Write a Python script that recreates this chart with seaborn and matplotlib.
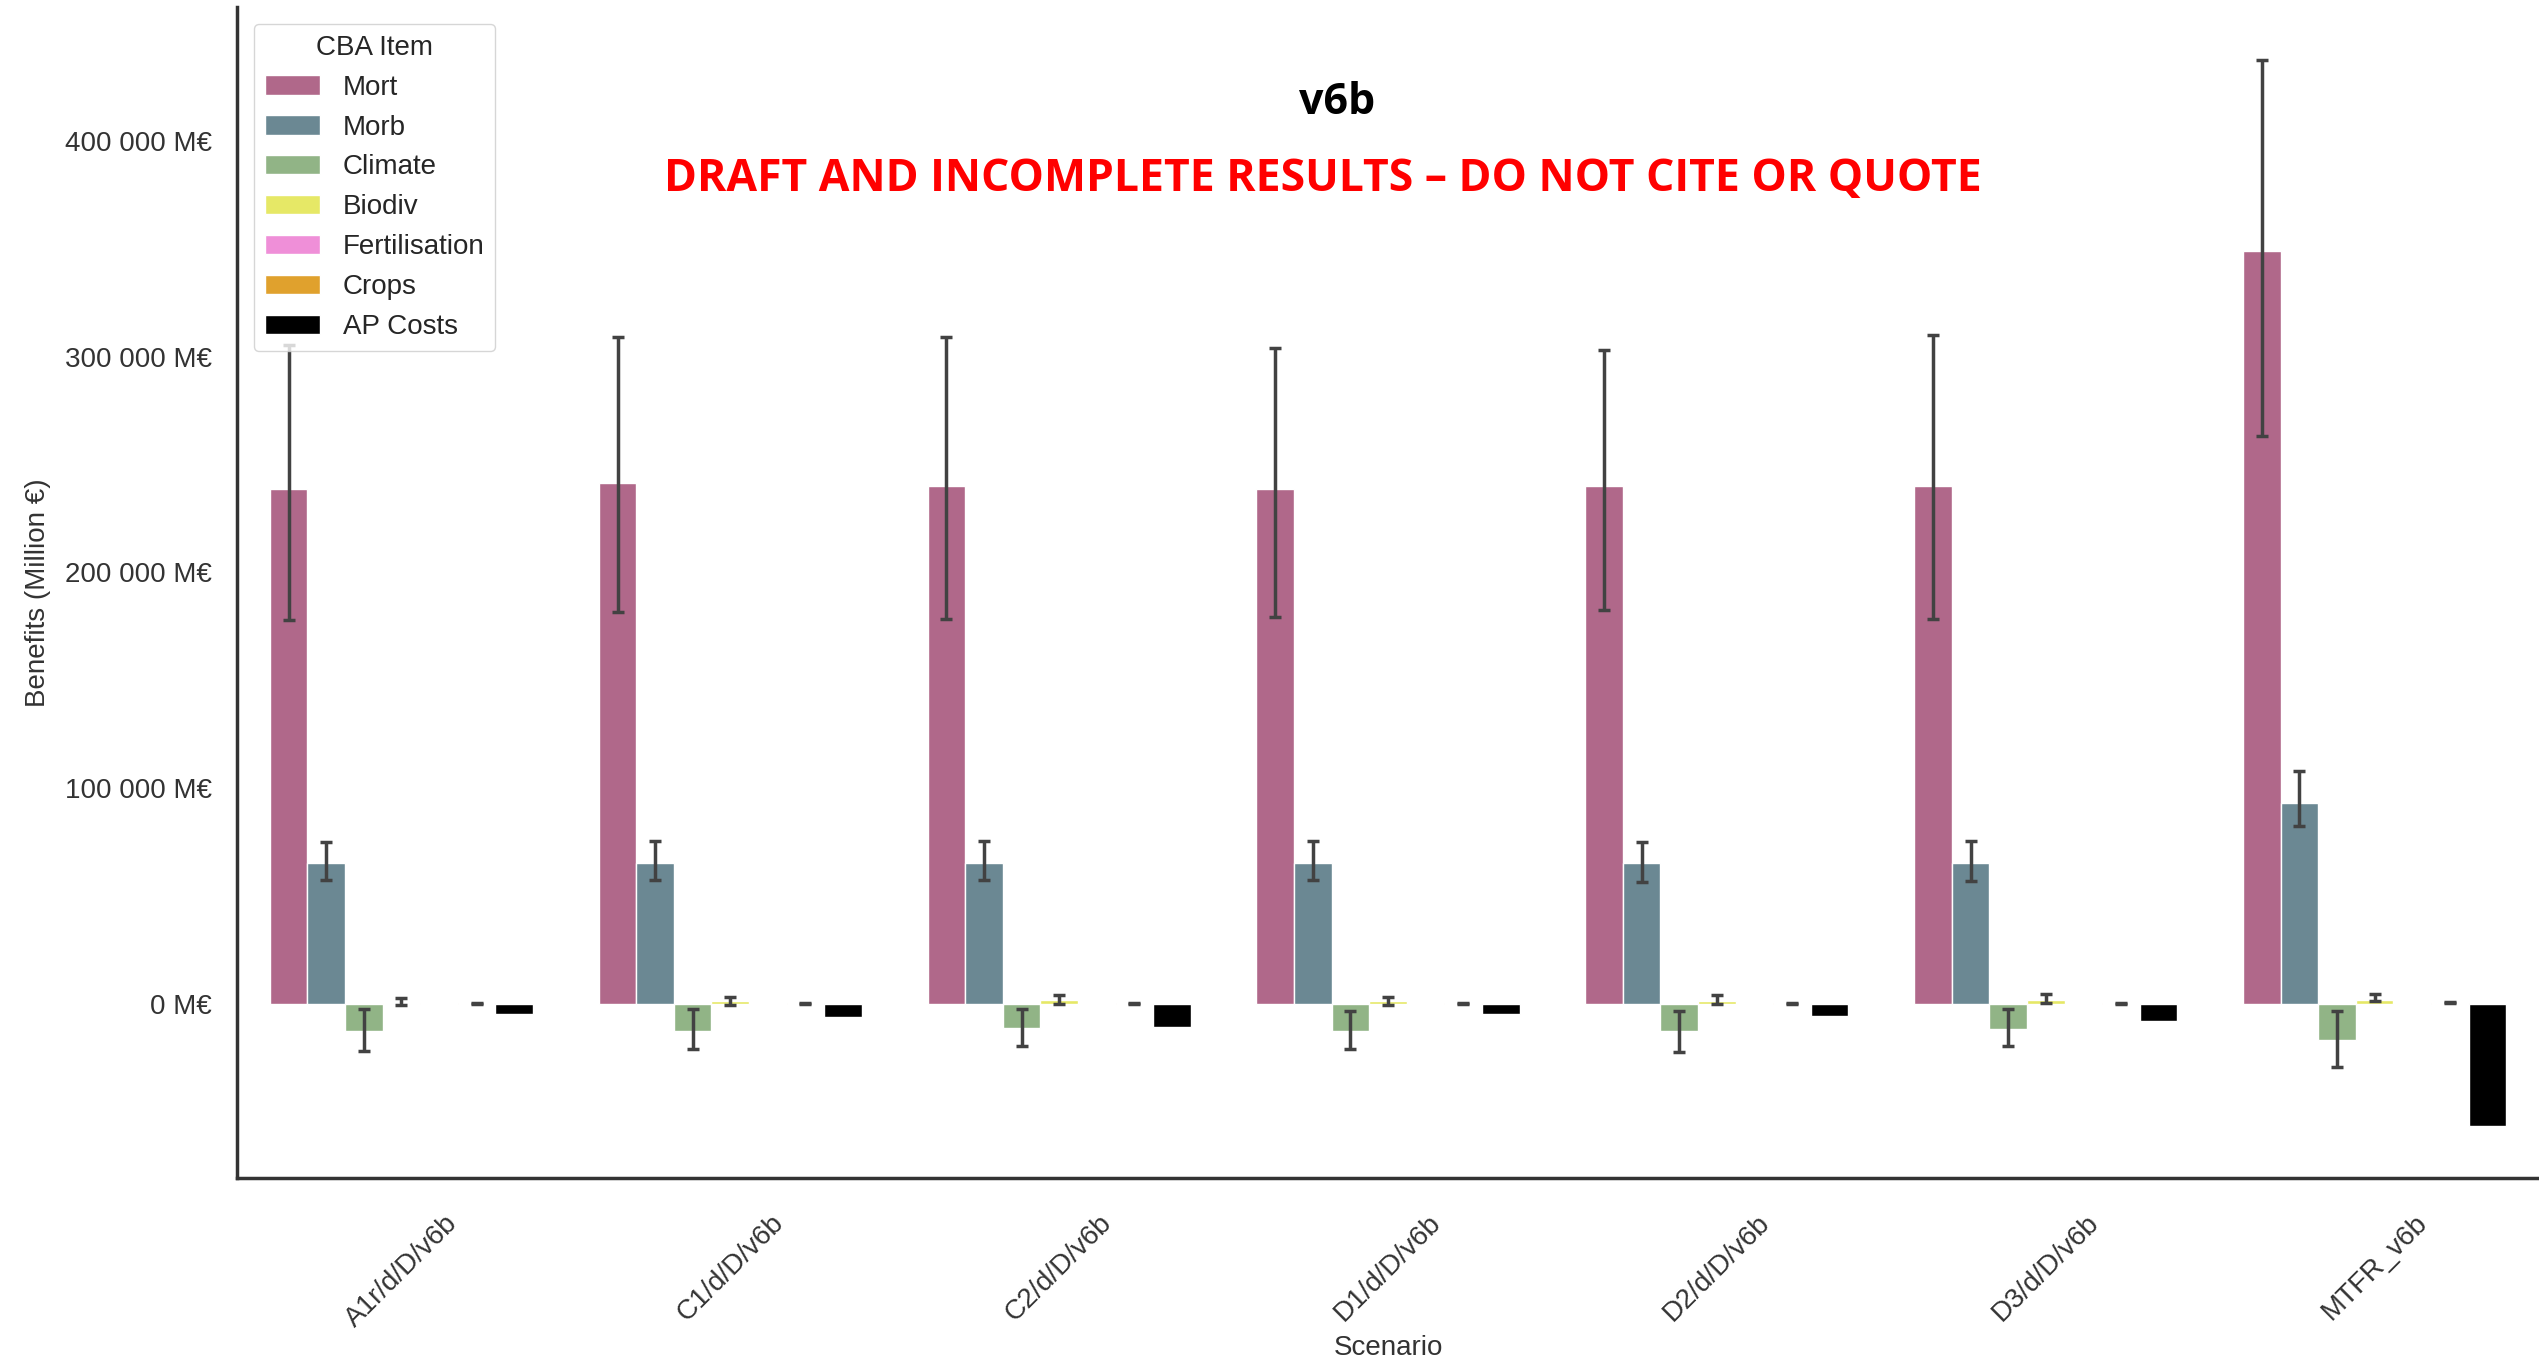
import numpy as np
import pandas as pd
import matplotlib
matplotlib.use('Agg')
import matplotlib.pyplot as plt
import seaborn as sns
from matplotlib.ticker import FuncFormatter

# scenarios on the x axis and CBA items used as hue
scenarios = ['A1r/d/D/v6b', 'C1/d/D/v6b', 'C2/d/D/v6b', 'D1/d/D/v6b',
             'D2/d/D/v6b', 'D3/d/D/v6b', 'MTFR_v6b']
items = ['Mort', 'Morb', 'Climate', 'Biodiv', 'Fertilisation', 'Crops', 'AP Costs']
colors = ['#b0688a', '#6b8893', '#91b486', '#e6e866', '#ef8fd8', '#e0a12d', '#000000']

# values in million EUR, with lower / upper error bounds (NaN = no error bar)
mort = [238600, 241600, 240100, 238600, 240100, 240100, 349000]
mort_lo = [177900, 181600, 178600, 179400, 182400, 178600, 263400]
mort_hi = [305400, 309200, 309200, 303900, 303200, 309900, 437500]

morb = [65400, 65400, 65400, 65400, 65400, 65400, 93100]
morb_lo = [57400, 57400, 57400, 57400, 56600, 56900, 82300]
morb_hi = [74900, 75600, 75600, 75600, 74900, 75600, 107800]

climate = [-12400, -12400, -11300, -12400, -12400, -11600, -16600]
climate_lo = [-21900, -20900, -19400, -20900, -22200, -19400, -29200]
climate_hi = [-2300, -2300, -2300, -3100, -3100, -2300, -3100]

biodiv = [500, 1300, 2000, 1300, 1500, 1800, 2000]
biodiv_lo = [-500, -500, 0, -500, 0, 500, 1100]
biodiv_hi = [2500, 3100, 4300, 3100, 3900, 4600, 4600]

fertilisation = [0, 0, 0, 0, 0, 0, 0]
fertilisation_lo = [np.nan] * 7
fertilisation_hi = [np.nan] * 7

crops = [300, 300, 300, 300, 300, 300, 600]
crops_lo = [100, 100, 100, 100, 100, 100, 400]
crops_hi = [500, 500, 500, 500, 500, 500, 800]

ap_costs = [-4600, -6200, -10500, -4600, -5400, -8100, -56500]
ap_costs_lo = [np.nan] * 7
ap_costs_hi = [np.nan] * 7

series = {
    'Mort': (mort, mort_lo, mort_hi),
    'Morb': (morb, morb_lo, morb_hi),
    'Climate': (climate, climate_lo, climate_hi),
    'Biodiv': (biodiv, biodiv_lo, biodiv_hi),
    'Fertilisation': (fertilisation, fertilisation_lo, fertilisation_hi),
    'Crops': (crops, crops_lo, crops_hi),
    'AP Costs': (ap_costs, ap_costs_lo, ap_costs_hi),
}

rows = []
for item in items:
    vals, lo, hi = series[item]
    for s, v, l, h in zip(scenarios, vals, lo, hi):
        rows.append({'Scenario': s, 'CBA Item': item, 'Value': v, 'lo': l, 'hi': h})
df = pd.DataFrame(rows)

sns.set_theme(style='white')
plt.rcParams['font.family'] = ['Liberation Sans', 'DejaVu Sans']

fig = plt.figure(figsize=(25.39, 13.64), dpi=100)
ax = fig.add_axes([237 / 2539, 1 - 1178 / 1364, 1 - 237 / 2539, (1178 - 7) / 1364])

sns.barplot(data=df, x='Scenario', y='Value', hue='CBA Item', hue_order=items,
            order=scenarios, palette=colors, saturation=1, errorbar=None, ax=ax)

# error bars placed on the bars seaborn drew
for item, cont in zip(items, ax.containers):
    sub = df[df['CBA Item'] == item].set_index('Scenario').loc[scenarios]
    for patch, (_, r) in zip(cont.patches, sub.iterrows()):
        if np.isnan(r['lo']):
            continue
        xc = patch.get_x() + patch.get_width() / 2
        ax.errorbar(xc, r['Value'], yerr=[[r['Value'] - r['lo']], [r['hi'] - r['Value']]],
                    color='#424242', elinewidth=2.5, capsize=4.2, capthick=2.5, zorder=3)

ax.set_xlim(-0.5, 6.5)
ax.set_ylim(-80700, 462000)
ax.set_yticks([0, 100000, 200000, 300000, 400000])
ax.yaxis.set_major_formatter(FuncFormatter(lambda v, p: f'{v:,.0f}'.replace(',', ' ') + ' M€'))
ax.tick_params(axis='both', length=0, labelsize=20, colors='#333333')
ax.tick_params(axis='y', pad=18)
ax.tick_params(axis='x', pad=23)
plt.setp(ax.get_xticklabels(), rotation=45)

ax.set_ylabel('Benefits (Million €)', fontsize=20, color='#333333')
ax.set_xlabel('Scenario', fontsize=20, color='#333333')
ax.yaxis.set_label_coords(-0.081, 0.5)
ax.xaxis.set_label_coords(0.5, -0.134)

sns.despine(ax=ax)
for sp in ['left', 'bottom']:
    ax.spines[sp].set_color('#333333')
    ax.spines[sp].set_linewidth(2.5)

handles, labels = ax.get_legend_handles_labels()
ax.legend(handles, labels, title='CBA Item', loc='upper left', fontsize=20,
          title_fontsize=20, borderaxespad=0.6)

fig.text(1337 / 2539, 1 - 103 / 1364, 'v6b', ha='center', va='center',
         fontsize=31, fontweight='bold', color='black', family=['Open Sans', 'DejaVu Sans'])
fig.text(1323 / 2539, 1 - 179 / 1364, 'DRAFT AND INCOMPLETE RESULTS – DO NOT CITE OR QUOTE',
         ha='center', va='center', fontsize=32, fontweight='bold', color='red',
         family=['Open Sans', 'DejaVu Sans'])

fig.savefig('out.png', dpi=100)
plt.close(fig)
